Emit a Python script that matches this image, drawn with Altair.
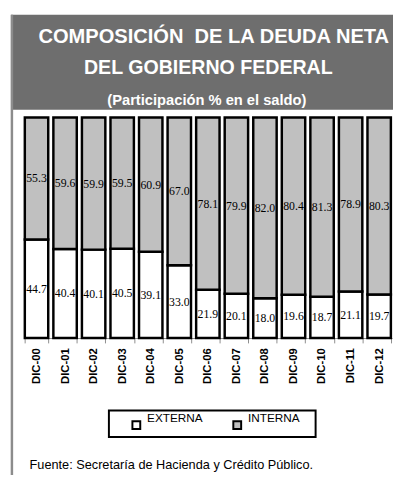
import altair as alt
import pandas as pd

periods = ["DIC-00", "DIC-01", "DIC-02", "DIC-03", "DIC-04", "DIC-05", "DIC-06",
           "DIC-07", "DIC-08", "DIC-09", "DIC-10", "DIC-11", "DIC-12"]
externa = [44.7, 40.4, 40.1, 40.5, 39.1, 33.0, 21.9, 20.1, 18.0, 19.6, 18.7, 21.1, 19.7]
interna = [55.3, 59.6, 59.9, 59.5, 60.9, 67.0, 78.1, 79.9, 82.0, 80.4, 81.3, 78.9, 80.3]
series = ["EXTERNA", "INTERNA"]
fills = ["#ffffff", "#c0c0c0"]
title_line1 = "COMPOSICIÓN\u00a0 DE LA DEUDA NETA"
title_line2 = "DEL GOBIERNO FEDERAL"
subtitle = "(Participación % en el saldo)"
source_note = "Fuente: Secretaría de Hacienda y Crédito Público."

rows = []
for p, e, i in zip(periods, externa, interna):
    rows.append({"periodo": p, "serie": series[0], "orden": 0, "valor": e})
    rows.append({"periodo": p, "serie": series[1], "orden": 1, "valor": i})
df = pd.DataFrame(rows)

W, H = 376, 225
one = pd.DataFrame({"k": [0]})

base = alt.Chart(df).transform_stack(
    stack="valor", groupby=["periodo"], as_=["y0", "y1"],
    sort=[alt.SortField("orden", order="ascending")]
).transform_calculate(mid="(datum.y0 + datum.y1) / 2")

xscale = alt.Scale(paddingInner=0.18, paddingOuter=0.04)
yscale = alt.Scale(domain=[0, 100])

bars = base.mark_bar(stroke="black", strokeWidth=2.5).encode(
    x=alt.X("periodo:N", sort=periods, scale=xscale,
            axis=alt.Axis(title=None, labelAngle=-90, labelAlign="right",
                          labelBaseline="middle", labelFont="Liberation Sans",
                          labelFontWeight="bold", labelFontSize=11.5, labelColor="black",
                          labelPadding=5, domainColor="#8c8c8c", tickColor="#8c8c8c",
                          tickSize=5, tickBand="extent")),
    y=alt.Y("y1:Q", scale=yscale, axis=None),
    y2="y0:Q",
    fill=alt.Fill("serie:N", scale=alt.Scale(domain=series, range=fills),
                  legend=alt.Legend(orient="none", legendX=109, legendY=308,
                                    direction="horizontal", title=None,
                                    symbolType="square", symbolSize=64,
                                    symbolStrokeColor="black", symbolStrokeWidth=2,
                                    labelFont="Liberation Sans", labelFontSize=12,
                                    labelColor="black", labelBaseline="bottom",
                                    labelOffset=5, columnPadding=27, padding=0)),
)

labels = base.mark_text(font="Liberation Serif", fontSize=12, color="black").encode(
    x=alt.X("periodo:N", sort=periods, scale=xscale),
    y=alt.Y("mid:Q", scale=yscale),
    text=alt.Text("valor:Q", format=".1f"),
)

deco = alt.Chart(one)
title_box = deco.mark_rect(fill="#6e6e6e").encode(
    x=alt.value(-13), x2=alt.value(377), y=alt.value(-105), y2=alt.value(-8))
left_line = deco.mark_rule(color="#8c8c8c", strokeWidth=2.5).encode(
    x=alt.value(-12), y=alt.value(-105), y2=alt.value(400))
t1 = deco.mark_text(text=title_line1, font="Liberation Sans", fontWeight="bold",
                    fontSize=20.5, color="white", align="center", baseline="middle").encode(
    x=alt.value(194), y=alt.value(-82))
t2 = deco.mark_text(text=title_line2, font="Liberation Sans", fontWeight="bold",
                    fontSize=20, color="white", align="center", baseline="middle").encode(
    x=alt.value(188.5), y=alt.value(-50))
t3 = deco.mark_text(text=subtitle, font="Liberation Sans", fontWeight="bold",
                    fontSize=15, color="white", align="center", baseline="middle").encode(
    x=alt.value(187), y=alt.value(-18))
legend_box = deco.mark_rect(fill="white", stroke="black", strokeWidth=2).encode(
    x=alt.value(87), x2=alt.value(298), y=alt.value(299), y2=alt.value(326))
foot = deco.mark_text(text=source_note, font="Liberation Sans", fontSize=13,
                      color="black", align="left", baseline="middle").encode(
    x=alt.value(6), y=alt.value(355))

chart = alt.layer(title_box, left_line, t1, t2, t3, legend_box, foot, bars, labels).properties(
    width=W, height=H,
    padding={"left": 16, "top": 107, "right": 1, "bottom": 135},
    autosize=alt.AutoSizeParams(type="none"),
).configure_view(stroke=None)

chart.save("out.html", embed_options={"renderer": "svg", "actions": False})
